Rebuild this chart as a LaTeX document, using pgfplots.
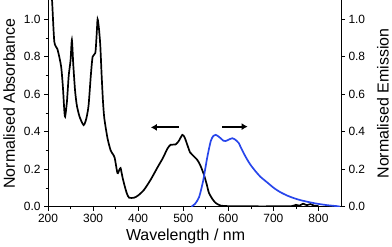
\documentclass[border=0pt]{standalone}
\usepackage{pgfplots}
\pgfplotsset{compat=1.18}
\usetikzlibrary{arrows.meta}
\usepackage{fontspec}
\setmainfont{Liberation Sans}
\definecolor{emblue}{RGB}{40,70,235}
\begin{document}
\begin{tikzpicture}
\pgfplotsset{
  common/.style={
    width=294pt, height=207pt, scale only axis=true,
    xmin=200, xmax=850, ymin=0, ymax=1.1,
    ytick={0,0.2,0.4,0.6,0.8,1.0},
    yticklabel style={/pgf/number format/.cd, fixed, fixed zerofill, precision=1},
    /pgf/number format/assume math mode=true,
    tick label style={font=\fontsize{12}{14}\selectfont},
    label style={font=\fontsize{16}{18}\selectfont},
    tick align=outside,
    major tick length=4pt, minor tick length=2.5pt,
    every tick/.style={black, line width=0.6pt},
    axis line style={line width=0.8pt},
  }
}
\begin{axis}[common,
  axis x line*=bottom, axis y line*=left,
  xtick={200,300,...,800}, minor x tick num=1, minor y tick num=1,
  xlabel={Wavelength / nm}, ylabel={Normalised Absorbance},
  xlabel style={yshift=1pt, xshift=-9pt}, ylabel style={yshift=2pt},
  clip=true]
\addplot[black, line width=1.7pt, smooth, tension=0.4] coordinates {
(207,1.13) (209,1.10) (214,0.88) (221,0.84) (229,0.75) (233,0.64) (236,0.52) (238,0.48)
(242,0.56) (246,0.70) (250,0.78) (253,0.89) (256,0.76) (260,0.62) (264,0.54) (270,0.48)
(279,0.435) (285,0.47) (290,0.54) (295,0.70) (299,0.80) (305,0.82) (308,0.92) (310,1.0)
(313,0.95) (316,0.86) (319,0.70) (322,0.56) (325,0.47) (332,0.365) (339,0.30) (344,0.28)
(348,0.26) (354,0.18) (358,0.195) (361,0.206) (365,0.16) (369,0.12) (375,0.07) (380,0.048)
(391,0.048) (400,0.06) (413,0.09) (428,0.145) (443,0.21) (455,0.26) (465,0.31) (472,0.33)
(483,0.332) (490,0.35) (498,0.383) (503,0.37) (509,0.33) (515,0.29) (520,0.277) (531,0.25)
(538,0.22) (546,0.17) (552,0.12) (557,0.074) (565,0.04) (572,0.02) (583,0.006) (600,0.003)
(650,0.002) (700,0.002) (740,0.003) (750,0.01) (758,0.006) (766,0.016) (774,0.008) (782,0.014)
(790,0.006) (800,0.004)};
\draw[-{Latex[length=6pt,width=7pt]}, line width=1.8pt] (axis cs:490,0.423) -- (axis cs:428,0.423);
\draw[-{Latex[length=6pt,width=7pt]}, line width=1.8pt] (axis cs:586,0.427) -- (axis cs:643,0.427);
\end{axis}
\begin{axis}[common,
  axis y line*=right, axis x line=none,
  ylabel={Normalised Emission},
  ylabel style={yshift=-5pt}]
\addplot[emblue, line width=1.7pt, smooth, tension=0.4] coordinates {
(518,0.0) (526,0.015) (535,0.05) (544,0.136) (553,0.26) (561,0.35) (567,0.378) (572,0.383)
(578,0.375) (583,0.365) (589,0.352) (594,0.35) (601,0.358) (609,0.365) (614,0.36) (619,0.35)
(623,0.34) (628,0.315) (634,0.286) (641,0.255) (649,0.224) (660,0.19) (671,0.16) (686,0.13)
(701,0.10) (715,0.078) (730,0.06) (745,0.046) (760,0.035) (778,0.025) (797,0.016) (820,0.008)
(841,0.003) (848,0.0)};
\end{axis}
\end{tikzpicture}
\end{document}
